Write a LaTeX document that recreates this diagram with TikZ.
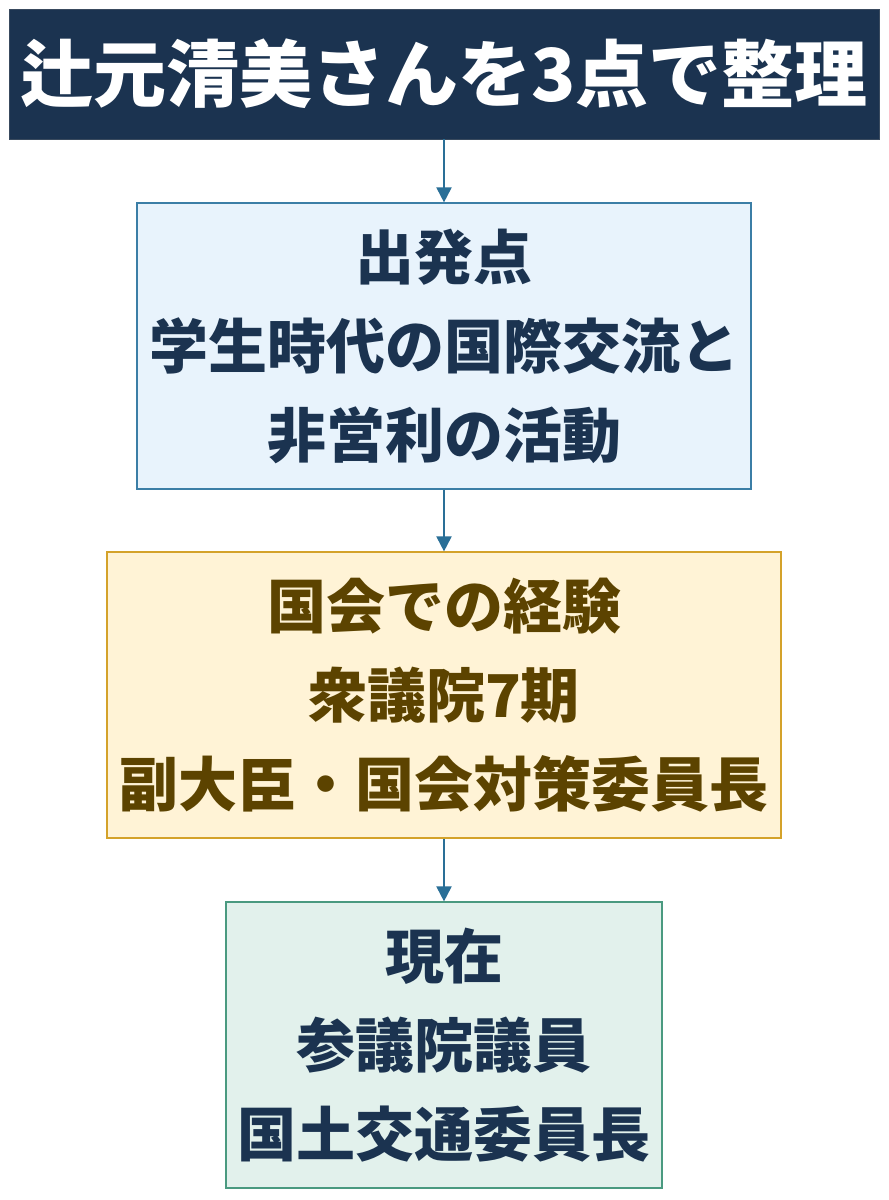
\documentclass[tikz,border=0pt]{standalone}
\usepackage{fontspec}
\newfontfamily\cjk{Noto Sans CJK JP}
\usetikzlibrary{arrows.meta}
\definecolor{navy}{HTML}{1B3350}
\definecolor{steel}{HTML}{2A6F97}
\definecolor{bluefill}{HTML}{E8F3FC}
\definecolor{blueline}{HTML}{3B7EA6}
\definecolor{creamfill}{HTML}{FFF3D6}
\definecolor{goldline}{HTML}{D4A22A}
\definecolor{browntext}{HTML}{5C4300}
\definecolor{mintfill}{HTML}{E2F1EC}
\definecolor{tealline}{HTML}{4A9A80}
\tikzset{
  titlebox/.style={fill=navy, draw=navy!70!gray, line width=0.8pt, text=white,
    minimum width=870pt, minimum height=130pt, inner sep=0pt,
    font=\cjk\bfseries\fontsize{73}{88}\selectfont},
  stagebox/.style={line width=1.2pt, minimum height=286pt, inner sep=0pt, align=center,
    font=\cjk\bfseries\fontsize{59}{89}\selectfont},
  flow/.style={draw=steel, line width=2pt, -{Triangle[width=15pt,length=15pt]}}
}
\begin{document}
\begin{tikzpicture}[x=1pt,y=-1pt]
\useasboundingbox (0,0) rectangle (889,1200);
\node[titlebox] (title) at (444,74) {辻元清美さんを3点で整理};
\node[stagebox, fill=bluefill, draw=blueline, text=navy, minimum width=614pt] (start) at (444,346)
  {出発点\\学生時代の国際交流と\\非営利の活動};
\node[stagebox, fill=creamfill, draw=goldline, text=browntext, minimum width=674pt] (diet) at (444,695)
  {国会での経験\\衆議院7期\\副大臣・国会対策委員長};
\node[stagebox, fill=mintfill, draw=tealline, text=navy, minimum width=436pt] (now) at (444,1045)
  {現在\\参議院議員\\国土交通委員長};
\draw[flow] (title.south) -- (start.north);
\draw[flow] (start.south) -- (diet.north);
\draw[flow] (diet.south) -- (now.north);
\end{tikzpicture}
\end{document}
